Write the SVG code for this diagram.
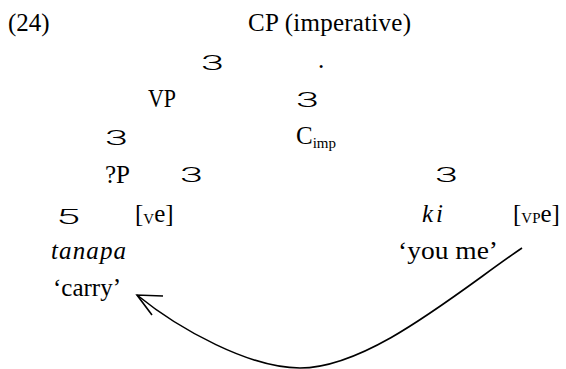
<svg xmlns="http://www.w3.org/2000/svg" width="566" height="369" viewBox="0 0 566 369">
<style>
  text { font-family: "Liberation Serif", "Times New Roman", serif; font-size: 25px; fill: #000; }
  .it { font-style: italic; }
  .sub { font-size: 15px; }
  .br { font-family: Roboto, Inter, "DejaVu Sans", sans-serif; font-weight: 300; font-size: 21px; }
  .conn { fill: none; stroke: #000; stroke-width: 1.6; }
</style>
<rect width="566" height="369" fill="#fff"/>
<g id="label-24"><text x="8" y="31">(24)</text></g>
<g id="node-cp"><text x="248" y="31" textLength="163" lengthAdjust="spacing">CP (imperative)</text></g>
<g id="branch-cp"><text class="br" x="201" y="70" textLength="23" lengthAdjust="spacingAndGlyphs">3</text></g>
<g id="dot"><text x="318" y="68">.</text></g>
<g id="node-vp"><text x="148" y="107" textLength="28" lengthAdjust="spacingAndGlyphs">VP</text></g>
<g id="branch-cbar"><text class="br" x="296" y="107" textLength="23" lengthAdjust="spacingAndGlyphs">3</text></g>
<g id="branch-vp"><text class="br" x="105" y="145" textLength="23" lengthAdjust="spacingAndGlyphs">3</text></g>
<g id="node-cimp"><text x="296" y="144">C<tspan class="sub" dy="4">imp</tspan></text></g>
<g id="node-qp"><text x="105" y="183">?P</text></g>
<g id="branch-vbar"><text class="br" x="180" y="182" textLength="23" lengthAdjust="spacingAndGlyphs">3</text></g>
<g id="branch-right"><text class="br" x="435" y="182" textLength="23" lengthAdjust="spacingAndGlyphs">3</text></g>
<g id="branch-qp"><text class="br" x="56" y="224" textLength="24" lengthAdjust="spacingAndGlyphs">5</text></g>
<g id="node-ve"><text x="135" y="222">[<tspan class="sub" dy="2">V</tspan><tspan dy="-2">e]</tspan></text></g>
<g id="node-ki"><text class="it" x="422" y="222" letter-spacing="3">ki</text></g>
<g id="node-vpe"><text x="513" y="222">[<tspan class="sub" dy="1">VP</tspan><tspan dy="-1">e]</tspan></text></g>
<g id="node-tanapa"><text class="it" x="51" y="259" textLength="75" lengthAdjust="spacing">tanapa</text></g>
<g id="node-youme"><text x="398" y="259" textLength="100" lengthAdjust="spacingAndGlyphs">‘you me’</text></g>
<g id="node-carry"><text x="53" y="296">‘carry’</text></g>
<g id="connectors">
  <path class="conn" d="M522,248 C460,290 370,368 300,368 C250,368 180,330 137,295"/>
  <path class="conn" d="M163,296 L137,295 L152,315"/>
</g>
</svg>
